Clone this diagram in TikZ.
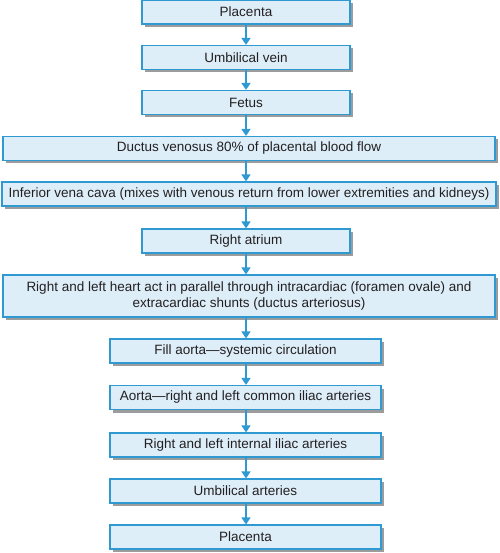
\documentclass[tikz,border=0pt]{standalone}
\usepackage{fontspec}
\setmainfont{Liberation Sans}
\usetikzlibrary{arrows.meta,shadows}
\definecolor{flowblue}{HTML}{2F9AD2}
\definecolor{flowfill}{HTML}{DDEEF9}
\definecolor{flowshade}{HTML}{9C9C9C}
\definecolor{flowtext}{HTML}{231F20}
\begin{document}
\begin{tikzpicture}[x=1pt,y=-1pt,
    box/.style={draw=flowblue, fill=flowfill, line width=1.2pt, inner sep=0pt,
      align=center, minimum height=24pt, text=flowtext,
      font=\fontsize{13.5}{16}\selectfont,
      drop shadow={shadow xshift=3pt, shadow yshift=-3pt, fill=flowshade, opacity=1}},
    flow/.style={draw=flowblue, line width=1.6pt, -{Triangle[width=9pt,length=7pt]}}]
          \useasboundingbox (0,0) rectangle (499,553);

          \node[box, minimum width=208pt] (b1) at (246,12) {Placenta};
          \node[box, minimum width=208pt] (b2) at (246,57.5) {Umbilical vein};
          \node[box, minimum width=208pt] (b3) at (246,102.5) {Fetus};
          \node[box, minimum width=492pt] (b4) at (249,148.5) {Ductus venosus 80\% of placental blood flow};
          \node[box, minimum width=494pt] (b5) at (249,194) {Inferior vena cava (mixes with venous return from lower extremities and kidneys)};
          \node[box, minimum width=208pt] (b6) at (246,241) {Right atrium};
          \node[box, minimum width=492pt, minimum height=42pt] (b7) at (249,296) {Right and left heart act in parallel through intracardiac (foramen ovale) and\\extracardiac shunts (ductus arteriosus)};
          \node[box, minimum width=271pt] (b8) at (245.5,351) {Fill aorta---systemic circulation};
          \node[box, minimum width=271pt] (b9) at (245.5,397.5) {Aorta---right and left common iliac arteries};
          \node[box, minimum width=271pt] (b10) at (245.5,445) {Right and left internal iliac arteries};
          \node[box, minimum width=271pt] (b11) at (245.5,491) {Umbilical arteries};
          \node[box, minimum width=271pt] (b12) at (245.5,537) {Placenta};

          \foreach \a/\b in {b1/b2,b2/b3,b3/b4,b4/b5,b5/b6,b6/b7,b7/b8,b8/b9,b9/b10,b10/b11,b11/b12} {
            \draw[flow] (\a.south -| b1.south) -- (\b.north -| b1.south);
          }
        \end{tikzpicture}
\end{document}
